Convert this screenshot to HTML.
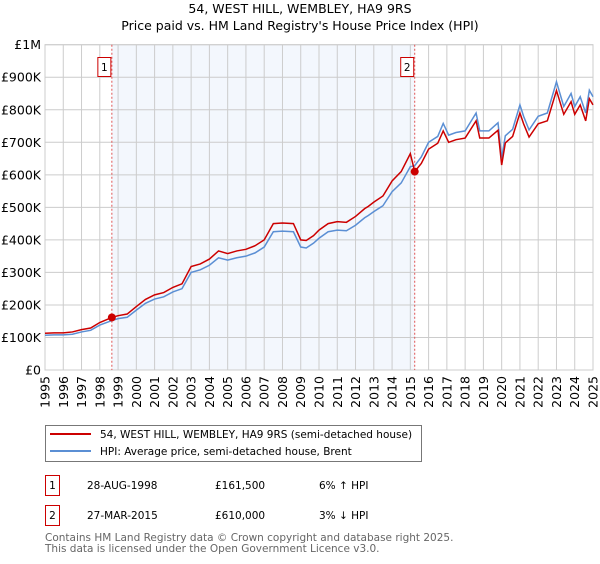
<!DOCTYPE html>
<html><head><meta charset="utf-8"><style>
body{margin:0;background:#fff;font-family:"DejaVu Sans","Liberation Sans",sans-serif;}
svg text{font-family:"DejaVu Sans","Liberation Sans",sans-serif;}
</style></head><body>
<svg id="chart" width="600" height="560" viewBox="0 0 600 560" xmlns="http://www.w3.org/2000/svg">
<text x="300" y="13" text-anchor="middle" font-size="12.5">54, WEST HILL, WEMBLEY, HA9 9RS</text>
<text x="300" y="30" text-anchor="middle" font-size="12.5">Price paid vs. HM Land Registry's House Price Index (HPI)</text>
<g id="plot"></g>
<g>
<rect x="45.5" y="425.5" width="376" height="36" fill="#fff" stroke="#777"/>
<line x1="50" y1="434" x2="91" y2="434" stroke="#cc0000" stroke-width="2"/>
<text x="100" y="438" font-size="10.5">54, WEST HILL, WEMBLEY, HA9 9RS (semi-detached house)</text>
<line x1="50" y1="451" x2="91" y2="451" stroke="#5b8fd4" stroke-width="2"/>
<text x="100" y="455" font-size="10.5">HPI: Average price, semi-detached house, Brent</text>
</g>
<g font-size="10.5">
<rect x="45.5" y="475.5" width="14" height="20" fill="none" stroke="#cc0000"/>
<text x="52.5" y="489" text-anchor="middle">1</text>
<text x="87" y="489">28-AUG-1998</text>
<text x="215" y="489">£161,500</text>
<text x="319" y="489">6% ↑ HPI</text>
<rect x="45.5" y="505.5" width="14" height="20" fill="none" stroke="#cc0000"/>
<text x="52.5" y="519" text-anchor="middle">2</text>
<text x="87" y="519">27-MAR-2015</text>
<text x="215" y="519">£610,000</text>
<text x="319" y="519">3% ↓ HPI</text>
</g>
<text x="45" y="541" font-size="10.5" fill="#666">Contains HM Land Registry data © Crown copyright and database right 2025.</text>
<text x="45" y="552" font-size="10.5" fill="#666">This data is licensed under the Open Government Licence v3.0.</text>
</svg>
<script>
const dates=[1995,1995.5,1996,1996.5,1997,1997.5,1998,1998.66,1999,1999.5,2000,2000.5,2001,2001.5,2002,2002.5,2003,2003.5,2004,2004.5,2005,2005.5,2006,2006.5,2007,2007.5,2008,2008.6,2009,2009.3,2009.7,2010,2010.5,2011,2011.5,2012,2012.5,2012.7,2013,2013.5,2014,2014.5,2015,2015.24,2015.6,2016,2016.5,2016.8,2017.1,2017.5,2018,2018.6,2018.8,2019.3,2019.8,2020,2020.2,2020.6,2021,2021.2,2021.5,2022,2022.5,2023,2023.4,2023.8,2024,2024.3,2024.6,2024.8,2025];
const hpiValues=[107,108,108,110,117,122,138,152,158,162,184,205,218,225,240,250,300,308,322,345,338,345,350,360,378,425,427,425,378,375,390,405,425,430,428,445,468,475,487,505,548,575,625,628,655,700,718,758,722,730,735,790,735,735,760,650,720,740,815,780,738,780,790,886,810,850,810,840,790,860,840];
const priceValues=[113,114,114,117,124,129,146,161.5,167,172,195,217,231,238,254,265,318,326,341,366,358,366,371,382,400,450,452,450,400,398,413,430,450,456,454,472,496,503,516,535,581,610,665,610,635,679,697,735,700,708,713,766,713,713,737,630,698,718,790,757,716,757,766,859,786,825,786,815,766,834,815];
const saleDates=[1998.66,2015.24];
const salePrices=[161.5,610];
const yTicks=[0,100,200,300,400,500,600,700,800,900,1000];
const yTickLabels=["£0","£100K","£200K","£300K","£400K","£500K","£600K","£700K","£800K","£900K","£1M"];
const xYears=[1995,1996,1997,1998,1999,2000,2001,2002,2003,2004,2005,2006,2007,2008,2009,2010,2011,2012,2013,2014,2015,2016,2017,2018,2019,2020,2021,2022,2023,2024,2025];

const NS="http://www.w3.org/2000/svg";
const L=45,R=593,T=44.7,B=370;
const x=d=>L+(d-1995)/30*(R-L);
const y=v=>B-v/1000*(B-T);
const g=document.getElementById('plot');
function mk(tag,attrs){const e=document.createElementNS(NS,tag);for(const k in attrs)e.setAttribute(k,attrs[k]);g.appendChild(e);return e;}

const shade=mk('rect',{x:x(saleDates[0]),y:T,width:x(saleDates[1])-x(saleDates[0]),height:B-T,fill:'#eef3fc',opacity:0.7});


xYears.forEach(yr=>{const l=mk('line',{x1:x(yr),x2:x(yr),y1:T,y2:B,stroke:'#ccc','stroke-width':1});


const t=mk('text',{x:0,y:0,'font-size':12.5,'text-anchor':'end',transform:`translate(${x(yr)+4.5},${B+6}) rotate(-90)`});
t.textContent=yr;

});
yTicks.forEach((v,i)=>{const l=mk('line',{x1:L,x2:R,y1:y(v),y2:y(v),stroke:'#ccc','stroke-width':1});


const t=mk('text',{x:L-4,y:y(v)+4.5,'font-size':12.5,'text-anchor':'end'});
t.textContent=yTickLabels[i];

});
const frame=mk('rect',{x:L,y:T,width:R-L,height:B-T,fill:'none',stroke:'#ccc'});


saleDates.forEach((d,i)=>{const l=mk('line',{x1:x(d),x2:x(d),y1:T,y2:B,stroke:'#e05555','stroke-dasharray':'2,2','stroke-width':1});


const bx=mk('rect',{x:x(d)-14,y:57.5,width:13,height:19,fill:'#fff',stroke:'#cc0000'});


const t=mk('text',{x:x(d)-7.5,y:71,'font-size':10.5,'text-anchor':'middle'});
t.textContent=String(i+1);

});
const hp=mk('polyline',{points:dates.map((d,i)=>x(d)+','+y(hpiValues[i])).join(' '),fill:'none',stroke:'#5b8fd4','stroke-width':1.5});


const pp=mk('polyline',{points:dates.map((d,i)=>x(d)+','+y(priceValues[i])).join(' '),fill:'none',stroke:'#cc0000','stroke-width':1.5});


saleDates.forEach((d,i)=>{const c=mk('circle',{cx:x(d),cy:y(salePrices[i]),r:4,fill:'#cc0000'});

});
</script>
</body></html>
